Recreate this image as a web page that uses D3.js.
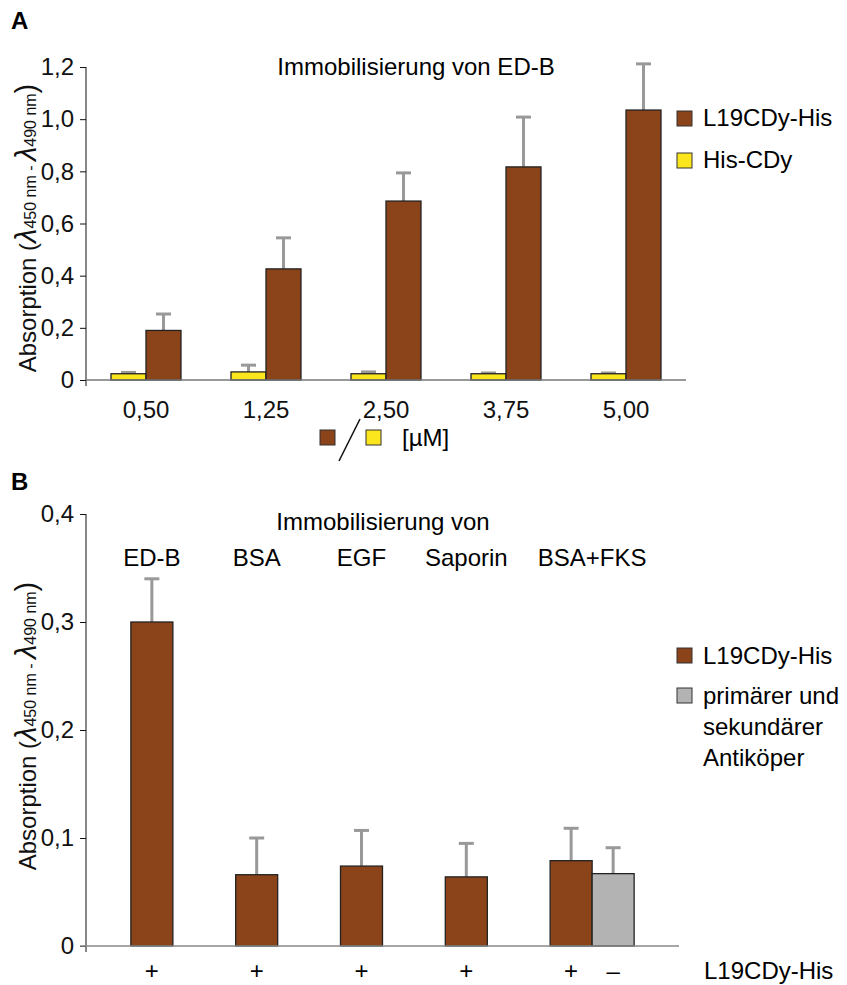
<!DOCTYPE html>
<html><head><meta charset="utf-8">
<script src="https://cdn.jsdelivr.net/npm/d3@7"></script>
<style>body{margin:0;background:#fff}svg{display:block;font-family:"Liberation Sans",Arial,sans-serif}</style>
</head><body><svg id="c" width="847" height="985"></svg>
<script>
// ---------- Data ----------
const catsA = ["0,50", "1,25", "2,50", "3,75", "5,00"];
const l19A = [0.19, 0.426, 0.686, 0.817, 1.035];
const l19AErr = [0.063, 0.119, 0.108, 0.191, 0.177];
const hisA = [0.024, 0.031, 0.024, 0.024, 0.024];
const hisAErr = [0.005, 0.026, 0.007, 0.003, 0.003];
const yTicksA = [0, 0.2, 0.4, 0.6, 0.8, 1.0, 1.2];
const yTickLabelsA = ["0", "0,2", "0,4", "0,6", "0,8", "1,0", "1,2"];
const seriesA = ["His-CDy", "L19CDy-His"];

const catsB = ["ED-B", "BSA", "EGF", "Saporin", "BSA+FKS"];
const l19B = [0.30, 0.066, 0.074, 0.064, 0.079];
const l19BErr = [0.040, 0.034, 0.033, 0.031, 0.030];
const antiB = [null, null, null, null, 0.067];
const antiBErr = [null, null, null, null, 0.024];
const signL19B = ["+", "+", "+", "+", "+"];
const signAntiB = [null, null, null, null, "–"];
const yTicksB = [0, 0.1, 0.2, 0.3, 0.4];
const yTickLabelsB = ["0", "0,1", "0,2", "0,3", "0,4"];
const seriesB = ["L19CDy-His", "primärer und sekundärer Antiköper"];

// ---------- Styles ----------
const BROWN = "#8b431a", YELLOW = "#fbe51c", GREY = "#b3b3b3", ERR = "#999999";
const FS = 24;
const svg = d3.select("#c");

function yLabel(g, cx, cy) {
  const t = g.append("text").attr("transform", `translate(${cx},${cy}) rotate(-90)`)
    .attr("text-anchor", "middle").attr("font-size", 24).attr("fill", "#111");
  t.append("tspan").text("Absorption (");
  t.append("tspan").text("λ").attr("font-size", 29).attr("font-style", "italic");
  t.append("tspan").text("450 nm - ").attr("font-size", 16);
  t.append("tspan").text("λ").attr("font-size", 29).attr("font-style", "italic");
  t.append("tspan").text("490 nm").attr("font-size", 16);
  t.append("tspan").text(")").attr("font-size", 29);
}

function errBar(g, x, yTop, yErr) {
  g.append("line").attr("x1", x).attr("x2", x).attr("y1", yTop).attr("y2", yErr)
    .attr("stroke", ERR).attr("stroke-width", 3);
  g.append("line").attr("x1", x - 7.5).attr("x2", x + 7.5).attr("y1", yErr).attr("y2", yErr)
    .attr("stroke", ERR).attr("stroke-width", 3);
}

// ================= Panel A =================
{
  const g = svg.append("g");
  const x0 = 86, x1 = 686;
  const y = d3.scaleLinear().domain([0, 1.2]).range([380, 67]);
  const x = d3.scaleBand().domain(catsA).range([x0, x1]).paddingInner(0.4167).paddingOuter(0.2083);
  const xs = d3.scaleBand().domain(seriesA).range([0, x.bandwidth()]);

  g.append("text").attr("x", 11).attr("y", 29).attr("font-size", 24).attr("font-weight", "bold").text("A");
  g.append("text").attr("x", 416).attr("y", 75).attr("text-anchor", "middle").attr("font-size", FS)
    .text("Immobilisierung von ED-B");

  // y axis
  const ya = g.append("g").attr("transform", `translate(${x0},0)`)
    .call(d3.axisLeft(y).tickValues(yTicksA).tickSize(6).tickPadding(6)
      .tickFormat((d, i) => yTickLabelsA[i]));
  ya.select(".domain").remove();
  ya.selectAll("text").attr("font-size", FS).attr("fill", "#111").attr("font-family", "Liberation Sans, Arial, sans-serif");
  ya.selectAll("line").attr("stroke", "#111");
  g.append("line").attr("x1", x0).attr("x2", x0).attr("y1", y(1.2)).attr("y2", y(0) + 6).attr("stroke", "#111");

  // bars
  catsA.forEach((c, i) => {
    const vals = [[seriesA[0], hisA[i], hisAErr[i], YELLOW], [seriesA[1], l19A[i], l19AErr[i], BROWN]];
    vals.forEach(([s, v, e, col]) => {
      const bx = x(c) + xs(s), bw = xs.bandwidth();
      errBar(g, bx + bw / 2, y(v), y(v + e));
      g.append("rect").attr("x", bx).attr("y", y(v)).attr("width", bw).attr("height", y(0) - y(v))
        .attr("fill", col).attr("stroke", "#222").attr("stroke-width", 1.3);
    });
  });
  // x axis
  g.append("line").attr("x1", x0).attr("x2", x1).attr("y1", y(0)).attr("y2", y(0)).attr("stroke", "#777").attr("stroke-width", 1.3);
  const xa = g.append("g").attr("transform", `translate(0,${y(0)})`)
    .call(d3.axisBottom(x).tickSize(0).tickPadding(21));
  xa.select(".domain").remove();
  xa.selectAll("text").attr("font-size", FS).attr("fill", "#111").attr("font-family", "Liberation Sans, Arial, sans-serif");

  // unit line under x axis
  g.append("rect").attr("x", 320).attr("y", 430).attr("width", 15).attr("height", 15).attr("fill", BROWN).attr("stroke", "#333");
  g.append("line").attr("x1", 339).attr("y1", 461).attr("x2", 360).attr("y2", 419).attr("stroke", "#111").attr("stroke-width", 1.6);
  g.append("rect").attr("x", 366).attr("y", 430).attr("width", 15).attr("height", 15).attr("fill", YELLOW).attr("stroke", "#333");
  g.append("text").attr("x", 402).attr("y", 446).attr("font-size", FS).text("[µM]");

  // legend
  const leg = [[seriesA[1], BROWN, 111], [seriesA[0], YELLOW, 153]];
  leg.forEach(([t, col, yy]) => {
    g.append("rect").attr("x", 677).attr("y", yy).attr("width", 15).attr("height", 15).attr("fill", col).attr("stroke", "#333");
    g.append("text").attr("x", 703).attr("y", yy + 15).attr("font-size", FS).text(t);
  });

  yLabel(g, 36, 228);
}

// ================= Panel B =================
{
  const g = svg.append("g");
  const x0 = 86, x1 = 679;
  const y = d3.scaleLinear().domain([0, 0.4]).range([946, 514]);
  const x = d3.scaleBand().domain(catsB).range([x0, x1]).paddingInner(0.1985).paddingOuter(0.428);
  const xs = d3.scaleBand().domain(["l19", "anti"]).range([0, x.bandwidth()]);

  g.append("text").attr("x", 11).attr("y", 490).attr("font-size", 24).attr("font-weight", "bold").text("B");
  g.append("text").attr("x", 383).attr("y", 530).attr("text-anchor", "middle").attr("font-size", FS)
    .text("Immobilisierung von");

  const ya = g.append("g").attr("transform", `translate(${x0},0)`)
    .call(d3.axisLeft(y).tickValues(yTicksB).tickSize(6).tickPadding(6)
      .tickFormat((d, i) => yTickLabelsB[i]));
  ya.select(".domain").remove();
  ya.selectAll("text").attr("font-size", FS).attr("fill", "#111").attr("font-family", "Liberation Sans, Arial, sans-serif");
  ya.selectAll("line").attr("stroke", "#111");
  g.append("line").attr("x1", x0).attr("x2", x0).attr("y1", y(0.4)).attr("y2", y(0) + 6).attr("stroke", "#111");

  catsB.forEach((c, i) => {
    const vals = [["l19", l19B[i], l19BErr[i], BROWN, signL19B[i]], ["anti", antiB[i], antiBErr[i], GREY, signAntiB[i]]];
    let xmin = Infinity, xmax = -Infinity;
    vals.forEach(([s, v, e, col, sign]) => {
      if (v == null) return;
      const bx = x(c) + xs(s), bw = xs.bandwidth();
      xmin = Math.min(xmin, bx); xmax = Math.max(xmax, bx + bw);
      errBar(g, bx + bw / 2, y(v), y(v + e));
      g.append("rect").attr("x", bx).attr("y", y(v)).attr("width", bw).attr("height", y(0) - y(v))
        .attr("fill", col).attr("stroke", "#222").attr("stroke-width", 1.3);
      g.append("text").attr("x", bx + bw / 2).attr("y", 979).attr("text-anchor", "middle")
        .attr("font-size", FS).text(sign);
    });
    g.append("text").attr("x", (xmin + xmax) / 2).attr("y", 566).attr("text-anchor", "middle")
      .attr("font-size", FS).text(c);
  });
  g.append("line").attr("x1", x0 - 6).attr("x2", x1).attr("y1", y(0)).attr("y2", y(0)).attr("stroke", "#888").attr("stroke-width", 1.3);
  g.append("text").attr("x", 704).attr("y", 979).attr("font-size", FS).text(seriesB[0]);

  // legend
  g.append("rect").attr("x", 677).attr("y", 648).attr("width", 15).attr("height", 15).attr("fill", BROWN).attr("stroke", "#333");
  g.append("text").attr("x", 703).attr("y", 664).attr("font-size", FS).text(seriesB[0]);
  g.append("rect").attr("x", 677).attr("y", 688).attr("width", 15).attr("height", 15).attr("fill", GREY).attr("stroke", "#333");
  const lt = g.append("text").attr("x", 703).attr("y", 704).attr("font-size", FS);
  ["primärer und", "sekundärer", "Antiköper"].forEach((s, i) =>
    lt.append("tspan").attr("x", 703).attr("dy", i === 0 ? 0 : 31).text(s));

  yLabel(g, 36, 726);
}
</script></body></html>
